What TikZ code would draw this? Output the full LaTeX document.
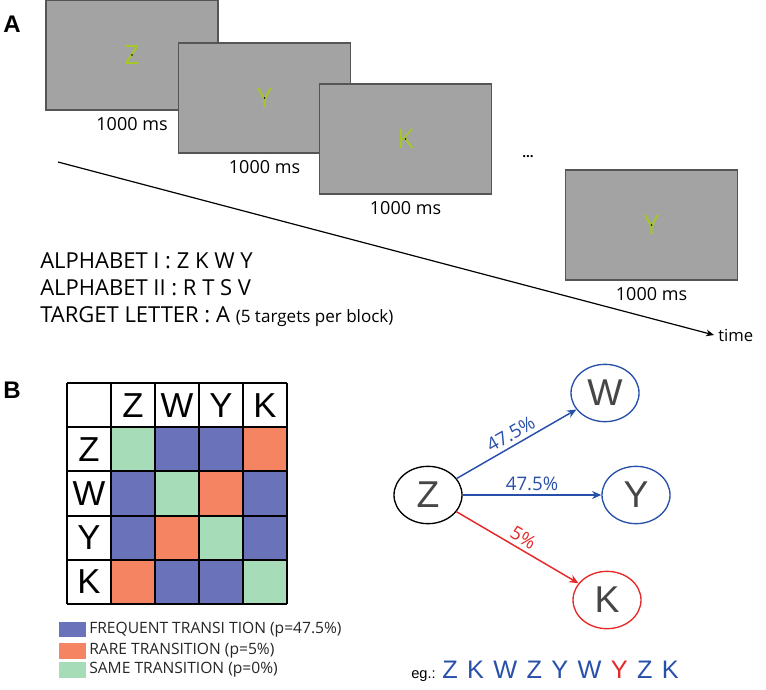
\documentclass[tikz,border=0pt]{standalone}
\usepackage{fontspec}
\setmainfont{Open Sans}
\newfontfamily\helv{Liberation Sans}
\usetikzlibrary{arrows.meta,positioning,shapes.geometric}

\definecolor{scrgray}{RGB}{163,163,163}
\definecolor{scrline}{RGB}{85,85,85}
\definecolor{lettergreen}{RGB}{165,200,40}
\definecolor{fq}{RGB}{106,115,185}
\definecolor{rr}{RGB}{245,132,98}
\definecolor{sg}{RGB}{166,221,184}
\definecolor{edgeblue}{RGB}{40,80,170}
\definecolor{edgered}{RGB}{230,40,40}
\definecolor{lettergray}{RGB}{70,70,70}

\tikzset{
  screen/.style={draw=scrline, fill=scrgray, line width=0.8pt, minimum width=129pt,
    minimum height=82.5pt, inner sep=0pt, text=lettergreen, font=\fontsize{20}{20}\selectfont},
  dur/.style={font=\fontsize{13.5}{14}\selectfont, inner sep=1pt},
  info/.style={anchor=base west, inner sep=0pt, font=\fontsize{16.5}{17}\selectfont},
  panel/.style={font=\helv\bfseries\fontsize{18}{18}\selectfont},
  hdr/.style={font=\helv\fontsize{26}{26}\selectfont, inner sep=0pt},
  legtext/.style={anchor=west, inner sep=0pt, font=\fontsize{11.7}{12}\selectfont, text=black!85},
  state/.style={ellipse, line width=1pt, minimum width=51pt, minimum height=43pt, inner sep=0pt,
    text=lettergray, font=\helv\fontsize{28}{28}\selectfont},
  trans/.style={line width=1.1pt, -{Stealth[length=7pt,width=6pt]}},
  pct/.style={font=\fontsize{14}{14}\selectfont, inner sep=3pt}
}

\begin{document}
\begin{tikzpicture}[x=0.75pt,y=-0.75pt]
  \useasboundingbox (0,0) rectangle (766,689);

  % panel A: stimulus stream
  \node[panel] (labA) at (12,24) {A};

  \node[screen] (s1) at (132,55) {Z};
  \node[dur, below=4pt of s1.south] (d1) {1000 ms};
  \node[screen] (s2) at (264.5,98) {Y};
  \node[dur, below=4pt of s2.south] (d2) {1000 ms};
  \node[screen] (s3) at (405.5,139) {K};
  \node[dur, below=4pt of s3.south] (d3) {1000 ms};
  \node[screen] (s4) at (651.5,225) {Y};
  \node[dur, below=4pt of s4.south] (d4) {1000 ms};
  \foreach \s in {s1,s2,s3,s4}
    \fill (\s) circle (0.9);

  \node[font=\bfseries] (dots) at (528,157) {...};

  \coordinate (t0) at (58,162);
  \coordinate (t1) at (714,335);
  \draw[line width=0.9pt, -{Stealth[length=6pt,width=5pt]}] (t0) -- (t1);
  \node[anchor=west, inner sep=3pt, font=\fontsize{12.5}{13}\selectfont] (time) at (t1) {time};

  \node[info] (alph1) at (40,268) {ALPHABET I : Z K W Y};
  \node[info] (alph2) at (40,295) {ALPHABET II : R T S V};
  \node[info] (target) at (40,322) {TARGET LETTER : A {\fontsize{12.8}{13}\selectfont(5 targets per block)}};

  % panel B: transition matrix
  \node[panel] (labB) at (12,390) {B};

  \foreach \c [count=\j] in {sg,fq,fq,rr}
    \fill[\c] (67+44*\j,427.2) rectangle ++(44,44.2);
  \foreach \c [count=\j] in {fq,sg,rr,fq}
    \fill[\c] (67+44*\j,471.4) rectangle ++(44,44.2);
  \foreach \c [count=\j] in {fq,rr,sg,fq}
    \fill[\c] (67+44*\j,515.6) rectangle ++(44,44.2);
  \foreach \c [count=\j] in {rr,fq,fq,sg}
    \fill[\c] (67+44*\j,559.8) rectangle ++(44,44.2);

  \foreach \i in {0,...,5} {
    \draw[line width=1.6pt] (67+44*\i,383) -- (67+44*\i,604);
    \draw[line width=1.6pt] (67,383+44.2*\i) -- (287,383+44.2*\i);
  }

  \foreach \l [count=\j] in {Z,W,Y,K} {
    \node[hdr] (col\l) at (89+44*\j,405.1) {\l};
    \node[hdr] (row\l) at (89,405.1+44.2*\j) {\l};
  }

  % legend
  \fill[fq] (59,622) rectangle (86,637);
  \node[legtext] (legfq) at (89,629.5) {FREQUENT TRANSI TION (p=47.5\%)};
  \fill[rr] (59,643) rectangle (86,659);
  \node[legtext] (legrr) at (89,651) {RARE TRANSITION (p=5\%)};
  \fill[sg] (59,662) rectangle (86,678);
  \node[legtext] (legsg) at (89,670) {SAME TRANSITION (p=0\%)};

  % transition graph
  \node[state, draw=black] (z) at (428,495) {Z};
  \node[state, draw=edgeblue] (w) at (605,393) {W};
  \node[state, draw=edgeblue] (y) at (636,495) {Y};
  \node[state, draw=edgered] (k) at (607,600) {K};

  \draw[trans, edgeblue] (z) -- node[pct, midway, above, sloped, text=edgeblue] {47.5\%} (w);
  \draw[trans, edgeblue] (z) -- node[pct, midway, above, text=edgeblue] {47.5\%} (y);
  \draw[trans, edgered] (z) -- node[pct, midway, above, sloped, text=edgered] {5\%} (k);

  \node[anchor=base west, inner sep=0pt, font=\helv\fontsize{19}{19}\selectfont, text=edgeblue] (seq) at (442,678)
    {\spaceskip=7pt Z K W Z Y W \textcolor{edgered}{Y} Z K};
  \node[anchor=base east, inner sep=0pt, font=\helv\fontsize{11}{11}\selectfont] (eg) at (436,678) {eg.:};

\end{tikzpicture}
\end{document}
